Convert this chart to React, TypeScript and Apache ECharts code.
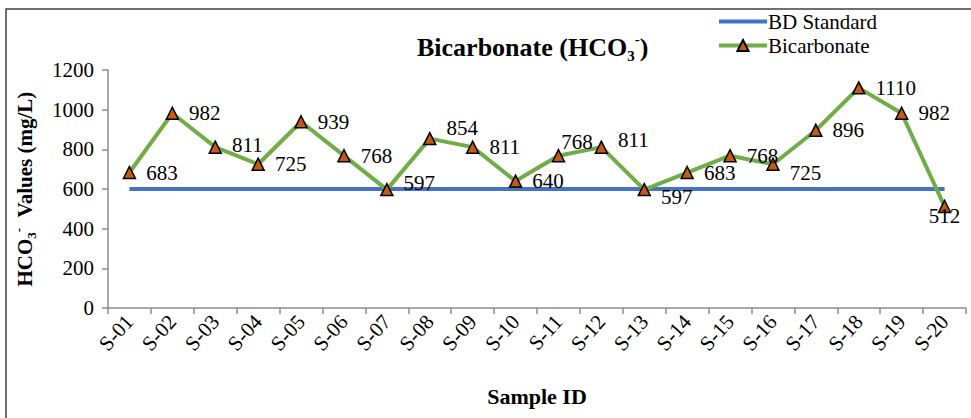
import React, { useEffect, useRef } from "react";
import * as echarts from "echarts";

const categories: string[] = [
  "S-01", "S-02", "S-03", "S-04", "S-05", "S-06", "S-07", "S-08", "S-09", "S-10",
  "S-11", "S-12", "S-13", "S-14", "S-15", "S-16", "S-17", "S-18", "S-19", "S-20",
];
const bicarbonate: number[] = [
  683, 982, 811, 725, 939, 768, 597, 854, 811, 640,
  768, 811, 597, 683, 768, 725, 896, 1110, 982, 512,
];
const bdStandard: number[] = [
  600, 600, 600, 600, 600, 600, 600, 600, 600, 600,
  600, 600, 600, 600, 600, 600, 600, 600, 600, 600,
];
const yTicks = { min: 0, max: 1200, interval: 200 };

// label placement tweaks (position only)
const labelOffsets: [number, number][] = [
  [0, 0], [0, 0], [0, -2], [0, 0], [0, 0], [0, 0], [0, -7], [0, -11], [0, 0], [0, 0],
  [-14, -14], [0, -7], [0, 7], [0, 0], [0, 0], [0, 9], [0, 0], [0, 0], [0, 0], [0, 0],
];

const FONT = "'Liberation Serif', 'Times New Roman', serif";

export default function App() {
  const ref = useRef<HTMLDivElement>(null);
  useEffect(() => {
    if (!ref.current) return;
    const chart = echarts.init(ref.current, null, { renderer: "svg" });
    const lastIdx = bicarbonate.length - 1;
    chart.setOption({
      animation: false,
      backgroundColor: "#ffffff",
      textStyle: { fontFamily: FONT, color: "#000" },
      title: {
        text: "{b|Bicarbonate (HCO}{sub|3}{sup|-}{b|)}",
        left: 412,
        top: 26,
        textStyle: {
          rich: {
            b: { fontFamily: FONT, fontWeight: "bold", fontSize: 26, color: "#000", lineHeight: 32, verticalAlign: "middle" },
            sub: { fontFamily: FONT, fontWeight: "bold", fontSize: 15, color: "#000", verticalAlign: "bottom", lineHeight: 32 },
            sup: { fontFamily: FONT, fontWeight: "bold", fontSize: 15, color: "#000", verticalAlign: "top", lineHeight: 32 },
          },
        },
      },
      legend: {
        orient: "vertical",
        left: 712,
        top: 6,
        itemWidth: 48,
        itemHeight: 14,
        itemGap: 3,
        lineStyle: { width: 4 },
        textStyle: { fontFamily: FONT, fontSize: 21, color: "#000", padding: [0, 0, 0, -4], lineHeight: 18 },
        data: [
          { name: "BD Standard", itemStyle: { opacity: 0 } },
          { name: "Bicarbonate" },
        ],
      },
      graphic: [
        {
          type: "rect",
          shape: { x: 6, y: 9, width: 1200, height: 600 },
          style: { fill: "none", stroke: "#404040", lineWidth: 1.5 },
          silent: true,
        },
      ],
      grid: { left: 108, right: 5, top: 70, bottom: 110, containLabel: false },
      xAxis: {
        type: "category",
        data: categories,
        boundaryGap: true,
        name: "Sample ID",
        nameLocation: "middle",
        nameGap: 77,
        nameTextStyle: { fontFamily: FONT, fontWeight: "bold", fontSize: 22, color: "#000" },
        axisLine: { lineStyle: { color: "#8c8c8c", width: 1.5 } },
        axisTick: { show: true, alignWithLabel: false, length: 6, lineStyle: { color: "#8c8c8c", width: 1.5 } },
        axisLabel: { interval: 0, rotate: 48, margin: 10, fontFamily: FONT, fontSize: 21, color: "#000" },
      },
      yAxis: {
        type: "value",
        min: yTicks.min,
        max: yTicks.max,
        interval: yTicks.interval,
        name: "{b|HCO}{sub|3}{sup|-}{b|  Values (mg/L)}",
        nameLocation: "middle",
        nameRotate: 90,
        nameGap: 70,
        nameTextStyle: {
          padding: [0, 0, 0, 0],
          rich: {
            b: { fontFamily: FONT, fontWeight: "bold", fontSize: 21, color: "#000", lineHeight: 26, verticalAlign: "middle" },
            sub: { fontFamily: FONT, fontWeight: "bold", fontSize: 13, color: "#000", verticalAlign: "bottom", lineHeight: 26 },
            sup: { fontFamily: FONT, fontWeight: "bold", fontSize: 13, color: "#000", verticalAlign: "top", lineHeight: 26 },
          },
        },
        splitLine: { show: false },
        axisLine: { show: true, lineStyle: { color: "#8c8c8c", width: 1.5 } },
        axisTick: { show: true, length: 6, lineStyle: { color: "#8c8c8c", width: 1.5 } },
        axisLabel: {
          fontFamily: FONT,
          fontSize: 21,
          color: "#000",
          margin: 14,
          formatter: (v: number) => String(v),
        },
      },
      series: [
        {
          name: "BD Standard",
          type: "line",
          data: bdStandard,
          symbol: "none",
          lineStyle: { color: "#4472C4", width: 4 },
          itemStyle: { color: "#4472C4" },
          z: 2,
        },
        {
          name: "Bicarbonate",
          type: "line",
          symbol: "triangle",
          symbolSize: 12,
          lineStyle: { color: "#70AD47", width: 4 },
          itemStyle: { color: "#C55A11", borderColor: "#000", borderWidth: 1.5 },
          z: 3,
          label: {
            show: true,
            position: "right",
            distance: 10,
            fontFamily: FONT,
            fontSize: 21,
            color: "#000",
          },
          data: bicarbonate.map((v, i) =>
            i === lastIdx
              ? { value: v, label: { position: "inside", offset: [0, 10] } }
              : { value: v, label: { offset: labelOffsets[i] } }
          ),
        },
      ],
    });
    return () => chart.dispose();
  }, []);
  return (
    <div
      ref={ref}
      style={{ position: "fixed", left: 0, top: 0, width: 971, height: 418 }}
    />
  );
}
